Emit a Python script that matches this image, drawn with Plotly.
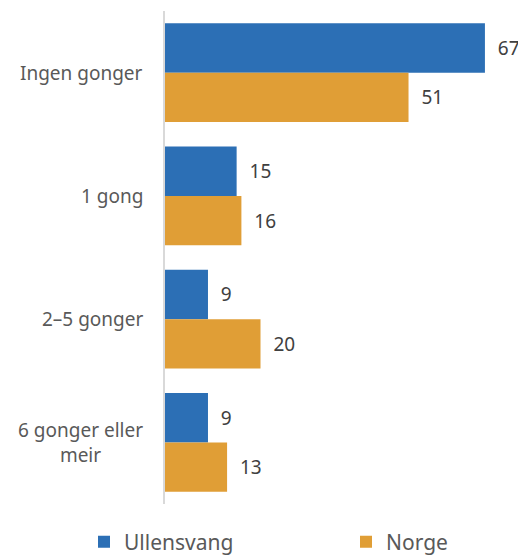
import plotly.graph_objects as go

categories = ["Ingen gonger", "1 gong", "2–5 gonger", "6 gonger eller<br>meir"]
ullensvang = [67, 15, 9, 9]
norge = [51, 16, 20, 13]
series_names = ["Ullensvang", "Norge"]

BLUE = "#2C6FB5"
ORANGE = "#E09E36"
TXT = "#595959"
FONT = "Noto Sans"

# the page body has an 8px default margin, so the figure is sized to the visible area
W, H = 518, 548

fig = go.Figure()
for name, vals, col, lg in [(series_names[0], ullensvang, BLUE, "legend"),
                            (series_names[1], norge, ORANGE, "legend2")]:
    fig.add_trace(go.Bar(
        y=categories, x=vals, name=name, orientation="h",
        marker=dict(color=col, line=dict(width=0)),
        text=["  " + str(v) for v in vals], textposition="outside",
        textfont=dict(size=19, color="#404040", family=FONT), cliponaxis=False,
        legend=lg,
    ))

for cat in categories:
    fig.add_annotation(x=0, xref="paper", y=cat, yref="y", text=cat, showarrow=False,
                       xanchor="right", align="center", xshift=-20,
                       font=dict(size=19, color=TXT, family=FONT))

leg_common = dict(orientation="h", xref="container", yref="container", xanchor="left",
                  yanchor="middle", y=14 / H, itemwidth=30,
                  font=dict(size=21, color=TXT, family=FONT), bgcolor="rgba(0,0,0,0)")

fig.update_layout(
    width=W, height=H,
    margin=dict(l=157, r=0, t=3, b=52, autoexpand=False),
    paper_bgcolor="white", plot_bgcolor="white",
    barmode="group", bargap=0.2, bargroupgap=0,
    font=dict(family=FONT, color=TXT, size=18),
    showlegend=True,
    legend=dict(x=76 / W, **leg_common),
    legend2=dict(x=338 / W, **leg_common),
    xaxis=dict(range=[0, 75.6], showgrid=False, showticklabels=False, zeroline=False,
               showline=False, ticks=""),
    yaxis=dict(autorange="reversed", showticklabels=False, showgrid=False, ticks="",
               showline=True, linecolor="#D9D9D9", linewidth=1.5, zeroline=False),
)

fig.write_html("out.html")
